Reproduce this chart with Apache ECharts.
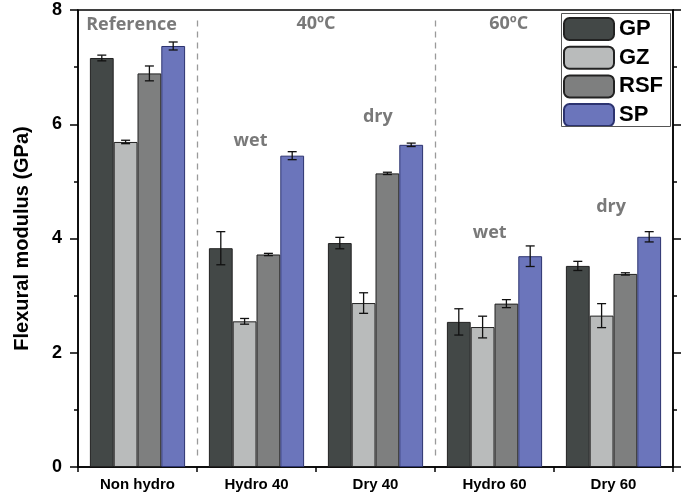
<!DOCTYPE html>
<html><head><meta charset="utf-8">
<script src="https://cdn.jsdelivr.net/npm/echarts@6/dist/echarts.min.js"></script>
<style>html,body{margin:0;padding:0;background:#fff}#c{width:685px;height:500px}</style>
</head><body><div id="c"></div>
<script>
const categories = ['Non hydro', 'Hydro 40', 'Dry 40', 'Hydro 60', 'Dry 60'];
const seriesNames = ['GP', 'GZ', 'RSF', 'SP'];
const GP  = [7.16, 3.83, 3.92, 2.54, 3.52];
const GZ  = [5.69, 2.55, 2.87, 2.45, 2.65];
const RSF = [6.89, 3.72, 5.14, 2.86, 3.38];
const SP  = [7.37, 5.45, 5.64, 3.69, 4.03];
const errGP  = [0.05, 0.29, 0.10, 0.23, 0.08];
const errGZ  = [0.03, 0.05, 0.18, 0.19, 0.21];
const errRSF = [0.13, 0.02, 0.02, 0.07, 0.02];
const errSP  = [0.07, 0.07, 0.03, 0.18, 0.09];
const yTicks = [0, 2, 4, 6, 8];
// annotation texts placed on a 0..5 value axis aligned with the categories
const annoText = ['Reference', '40ºC', '60ºC', 'wet', 'dry', 'wet', 'dry'];
const annoX    = [0.45, 2.0, 3.62, 1.45, 2.52, 3.46, 4.48];
const annoY    = [7.74, 7.76, 7.76, 5.71, 6.13, 4.10, 4.55];
const dividers = [1, 3];

const colors = ['#434847', '#b9bbbb', '#7e7f7f', '#6b75bb'];
const vals = [GP, GZ, RSF, SP];
const errs = [errGP, errGZ, errRSF, errSP];

const errData = [];
vals.forEach((arr, s) => arr.forEach((v, c) => errData.push([c, s, v, errs[s][c]])));

const chart = echarts.init(document.getElementById('c'));
const axisCol = '#000';
const sans = "'Liberation Sans',Arial,sans-serif";
const option = {
  animation: false,
  grid: { left: 78, right: 12, top: 10, bottom: 33, show: true, borderColor: axisCol, borderWidth: 1.5 },
  legend: {
    data: seriesNames, orient: 'vertical', left: 563, top: 17,
    itemWidth: 50, itemHeight: 22, itemGap: 4.7, padding: 0,
    textStyle: { fontSize: 22, fontWeight: 'bold', color: '#000', fontFamily: sans }
  },
  graphic: [{ type: 'rect', left: 559, top: 11, shape: { width: 109, height: 113 }, style: { fill: 'none', stroke: '#555', lineWidth: 1 }, z: 10 }],
  xAxis: [
    { type: 'category', data: categories, position: 'bottom',
      axisLine: { show: false },
      axisTick: { alignWithLabel: true, length: 9, lineStyle: { color: axisCol, width: 1.5 } },
      axisLabel: { fontSize: 15, fontWeight: 'bold', color: '#000', margin: 10, fontFamily: sans } },
    { type: 'value', min: 0, max: 5, interval: 1, position: 'bottom',
      axisLine: { show: true, lineStyle: { color: axisCol, width: 1.5 } },
      axisTick: { show: true, length: 5, lineStyle: { color: axisCol, width: 1.5 } },
      axisLabel: { show: false }, splitLine: { show: false } }
  ],
  yAxis: [
    { type: 'value', min: 0, max: 8, interval: 2,
      axisLine: { show: true, lineStyle: { color: axisCol, width: 1.5 } },
      axisTick: { show: true, length: 8, lineStyle: { color: axisCol, width: 1.5 } },
      minorTick: { show: true, splitNumber: 2, length: 4, lineStyle: { color: axisCol, width: 1.5 } },
      axisLabel: { fontSize: 18, fontWeight: 'bold', color: '#000', margin: 16, fontFamily: sans,
                   formatter: v => yTicks.includes(v) ? String(v) : '' },
      splitLine: { show: false },
      name: 'Flexural modulus (GPa)', nameLocation: 'middle', nameGap: 46,
      nameTextStyle: { fontSize: 20, fontWeight: 'bold', color: '#000', fontFamily: sans } },
    { type: 'value', min: 0, max: 8, interval: 2, position: 'right',
      axisLine: { show: true, lineStyle: { color: axisCol, width: 1.5 } },
      axisTick: { show: true, length: 8, lineStyle: { color: axisCol, width: 1.5 } },
      minorTick: { show: true, splitNumber: 2, length: 4, lineStyle: { color: axisCol, width: 1.5 } },
      axisLabel: { show: false }, splitLine: { show: false } }
  ],
  series: [
    ...seriesNames.map((n, i) => ({
      name: n, type: 'bar', data: vals[i], xAxisIndex: 0, yAxisIndex: 0,
      barGap: '0%', barCategoryGap: '20%',
      itemStyle: { color: colors[i], borderColor: i === 3 ? '#2c3370' : '#222', borderWidth: 1 }
    })),
    { name: 'err', type: 'custom', xAxisIndex: 0, yAxisIndex: 0, z: 5,
      encode: { x: 0, y: 2 }, data: errData,
      renderItem: (params, api) => {
        const c = api.value(0), s = api.value(1), v = api.value(2), e = api.value(3);
        const band = api.size([1, 0])[0];
        const bw = band * 0.8 / 4;
        const off = (s - 1.5) * bw;
        const top = api.coord([c, v + e]);
        const bot = api.coord([c, v - e]);
        const x = top[0] + off;
        const cap = 4.5;
        const st = { stroke: '#111', lineWidth: 1.3 };
        return { type: 'group', children: [
          { type: 'line', shape: { x1: x, y1: top[1], x2: x, y2: bot[1] }, style: st },
          { type: 'line', shape: { x1: x - cap, y1: top[1], x2: x + cap, y2: top[1] }, style: st },
          { type: 'line', shape: { x1: x - cap, y1: bot[1], x2: x + cap, y2: bot[1] }, style: st }
        ] };
      } },
    { name: 'anno', type: 'scatter', xAxisIndex: 1, yAxisIndex: 0, symbolSize: 0, silent: true,
      data: annoText.map((t, i) => ({ name: t, value: [annoX[i], annoY[i]] })),
      label: { show: true, position: 'inside', formatter: '{b}', color: '#585858', fontSize: 18, fontWeight: 'bold',
               fontFamily: "'Open Sans',sans-serif" },
      markLine: { silent: true, symbol: 'none', label: { show: false },
        lineStyle: { color: '#9a9a9a', type: [6, 5], width: 1.3 },
        data: dividers.map(d => [{ coord: [d, 0.2] }, { coord: [d, 7.85] }]) } }
  ]
};
chart.setOption(option);
</script></body></html>
